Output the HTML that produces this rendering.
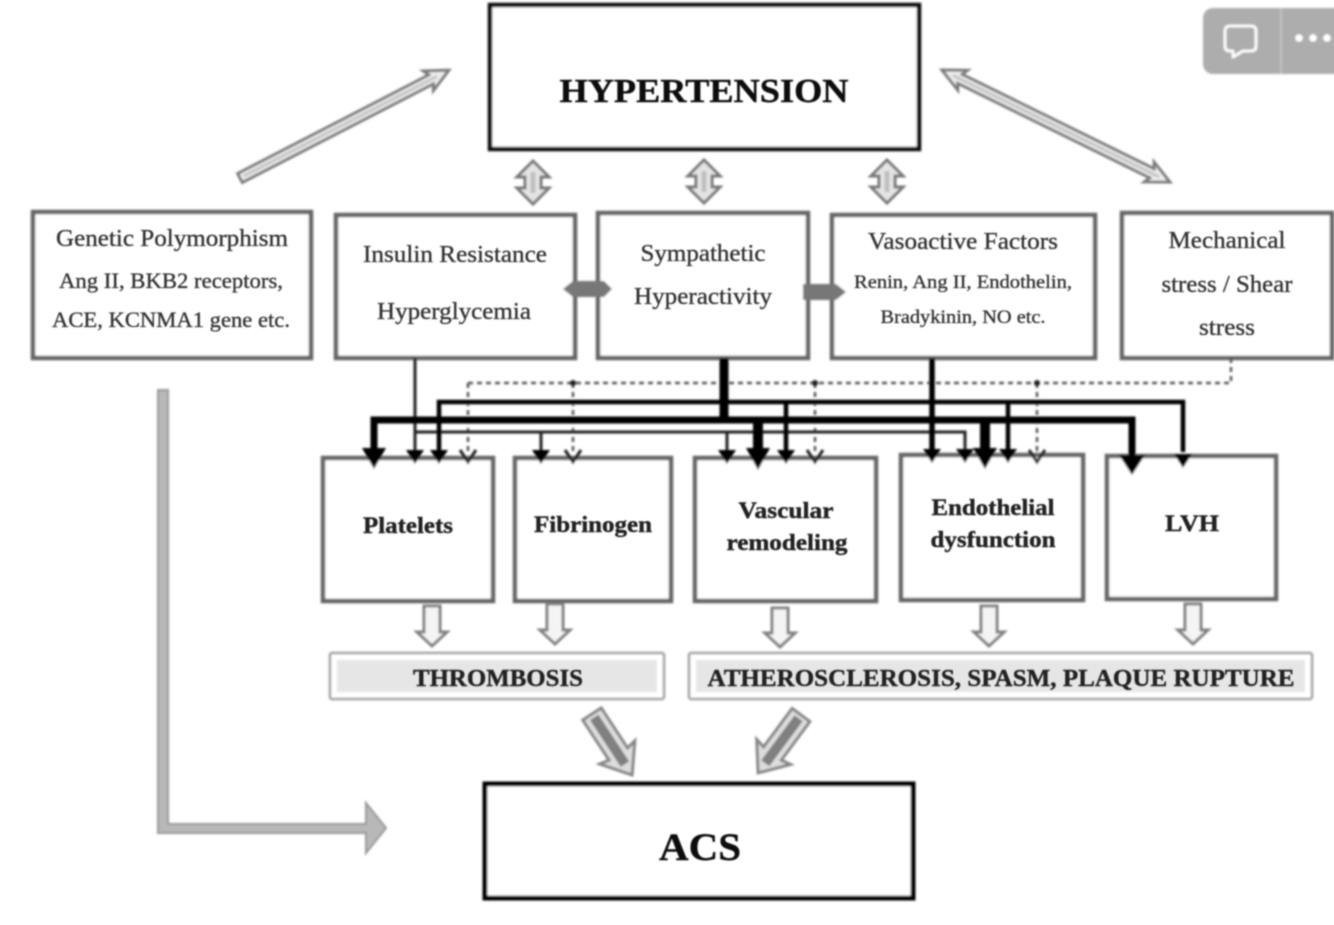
<!DOCTYPE html>
<html><head><meta charset="utf-8"><style>
html,body{margin:0;padding:0;background:#fff;width:1334px;height:925px;overflow:hidden}
svg{display:block}
text{font-family:"Liberation Serif",serif;text-anchor:middle;fill:#333;stroke:#333;stroke-width:.35px}
.b{font-weight:bold;fill:#222;stroke:#222;stroke-width:.4px}
.h{font-weight:bold;fill:#111;stroke:#111;stroke-width:.4px}
</style></head><body>
<svg width="1334" height="925" viewBox="0 0 1334 925" xmlns="http://www.w3.org/2000/svg">
<defs>
<filter id="bl" x="-2%" y="-2%" width="104%" height="104%"><feGaussianBlur stdDeviation="1"/></filter>
<filter id="tb" x="-5%" y="-20%" width="110%" height="140%"><feGaussianBlur stdDeviation="0.85"/></filter>
</defs>
<rect width="1334" height="925" fill="#fff"/>
<g filter="url(#bl)">
<!-- main boxes -->
<g fill="#fff" stroke="#111" stroke-width="4.5">
<rect x="490" y="5" width="429" height="144"/>
<rect x="485" y="784" width="428" height="114" stroke="#000" stroke-width="5"/>
</g>
<g fill="#fff" stroke="#666" stroke-width="4.5">
<rect x="33" y="212" width="278" height="146"/>
<rect x="336" y="215" width="239" height="143"/>
<rect x="598" y="213" width="210" height="145"/>
<rect x="832" y="215" width="263" height="143"/>
<rect x="1122" y="213" width="210" height="145"/>
<rect x="323" y="458" width="170" height="143"/>
<rect x="515" y="458" width="156" height="143"/>
<rect x="695" y="458" width="181" height="143"/>
<rect x="901" y="455" width="182" height="145"/>
<rect x="1107" y="456" width="169" height="143"/>
</g>
<!-- outcome boxes -->
<g fill="#fff" stroke="#a0a0a0" stroke-width="2.5">
<rect x="330" y="653" width="334" height="46" rx="2"/>
<rect x="689" y="653" width="623" height="46" rx="2"/>
</g>
<rect x="337" y="660" width="320" height="32" fill="#e6e6e6"/>
<rect x="696" y="660" width="609" height="32" fill="#e6e6e6"/>

<!-- dashed lines -->
<g fill="none" stroke="#555" stroke-width="2.5" stroke-dasharray="5 4">
<path d="M1231 358V383H468"/>
<path d="M468 383V455M573 383V455M815 383V455M1037 383V455"/>
</g>
<g fill="#222"><circle cx="573" cy="383" r="3"/><circle cx="815" cy="383" r="3"/><circle cx="1037" cy="383" r="3"/></g>
<g fill="none" stroke="#222" stroke-width="3">
<path d="M460 450L468 462L476 450M565 450L573 462L581 450M807 450L815 462L823 450M1029 450L1037 462L1045 450"/>
</g>

<!-- thin lines -->
<g fill="none" stroke="#222" stroke-width="3">
<path d="M415 358V452"/>
<path d="M415 432H965V452"/>
<path d="M541 432V452M727 432V452"/>
</g>
<!-- medium lines -->
<g fill="none" stroke="#000" stroke-width="4.5">
<path d="M439 452V402H1183V452"/>
<path d="M786 402V452M1008 402V452"/>
</g>
<path d="M932 358V452" stroke="#000" stroke-width="5.5" fill="none"/>
<!-- thick lines -->
<g fill="none" stroke="#000" stroke-width="7">
<path d="M374 452V420H1132V458"/>
</g>
<path d="M724 358V420" stroke="#000" stroke-width="9" fill="none"/>
<path d="M758 420V452M985 420V452" stroke="#000" stroke-width="10" fill="none"/>
<!-- heads -->
<g fill="#000">
<path d="M406 450H424L415 464Z"/>
<path d="M430 450H448L439 464Z"/>
<path d="M532 450H550L541 464Z"/>
<path d="M718 450H736L727 464Z"/>
<path d="M777 450H795L786 464Z"/>
<path d="M923 449H941L932 463Z"/>
<path d="M956 449H974L965 463Z"/>
<path d="M999 449H1017L1008 463Z"/>
<path d="M1174 454H1192L1183 468Z"/>
<path d="M362 448H386L374 469Z"/>
<path d="M746 448H770L758 470Z"/>
<path d="M973 448H997L985 469Z"/>
<path d="M1119 455H1145L1132 475Z"/>
</g>

<!-- connectors between boxes -->
<path d="M563 289L573 281H604L612 289L604 297H573Z" fill="#777"/>
<path d="M803 284H836L846 292L836 300H803Z" fill="#777"/>

<!-- large hollow arrows -->
<g stroke="#7c7c7c" stroke-width="3" fill="#eee" stroke-linejoin="miter">
<g transform="translate(240,178) rotate(-27.3)">
<polygon points="0,-5 215,-5 212,-11 235,0 212,11 215,5 0,5"/>
<line x1="4" y1="0" x2="222" y2="0" stroke="#c4c4c4" stroke-width="3"/>
</g>
<g transform="translate(942,70) rotate(26.2)">
<polygon points="0,0 23,-11 20,-5 234,-5 231,-11 254,0 231,11 234,5 20,5 23,11"/>
<line x1="12" y1="0" x2="242" y2="0" stroke="#c4c4c4" stroke-width="3"/>
</g>
</g>

<!-- double vertical arrows -->
<g stroke="#777" stroke-width="3" fill="#e4e4e4">
<polygon points="533,161 549,177 541,177 541,188 549,188 533,204 517,188 525,188 525,177 517,177"/>
<polygon points="704,160 720,176 712,176 712,187 720,187 704,203 688,187 696,187 696,176 688,176"/>
<polygon points="887,160 903,176 895,176 895,187 903,187 887,203 871,187 879,187 879,176 871,176"/>
</g>
<g stroke="#c0c0c0" stroke-width="5">
<line x1="533" y1="172" x2="533" y2="193"/><line x1="704" y1="171" x2="704" y2="192"/><line x1="887" y1="171" x2="887" y2="192"/>
</g>

<!-- small down arrows -->
<g stroke="#808080" stroke-width="3" fill="#f4f4f4">
<polygon points="424,606 440,606 440,632 447,632 432,646 417,632 424,632"/>
<polygon points="547,604 563,604 563,630 570,630 555,644 540,630 547,630"/>
<polygon points="772,608 788,608 788,633 795,633 780,647 765,633 772,633"/>
<polygon points="981,606 997,606 997,632 1004,632 989,646 974,632 981,632"/>
<polygon points="1185,604 1201,604 1201,630 1208,630 1193,644 1178,630 1185,630"/>
</g>

<!-- fat arrows to ACS -->
<g stroke="#858585" stroke-width="3" fill="#ddd">
<g transform="translate(592,714) rotate(56.7)">
<polygon points="0,-11 48,-11 46,-21 73,0 46,21 48,11 0,11"/>
<rect x="4" y="-5" width="56" height="10" fill="#808080" stroke="none"/>
</g>
<g transform="translate(801,715) rotate(126.5)">
<polygon points="0,-11 48,-11 46,-21 72,0 46,21 48,11 0,11"/>
<rect x="4" y="-5" width="56" height="10" fill="#808080" stroke="none"/>
</g>
</g>

<!-- L arrow -->
<path d="M158 390H168V824H366V803L386 828L366 853V833H158Z" fill="#b8b8b8" stroke="#999" stroke-width="2"/>

<!-- badge -->
<rect x="1203" y="8" width="140" height="66" rx="10" fill="#adadad"/>
<line x1="1281" y1="8" x2="1281" y2="74" stroke="#c8c8c8" stroke-width="1.5"/>
<path d="M1230 26H1251Q1256 26 1256 31V46Q1256 51 1251 51H1243L1233 57V51H1230Q1225 51 1225 46V31Q1225 26 1230 26Z" fill="none" stroke="#fff" stroke-width="2.8" stroke-linejoin="round"/>
<g fill="#fff"><circle cx="1299" cy="38" r="3.8"/><circle cx="1313" cy="38" r="3.8"/><circle cx="1327" cy="38" r="3.8"/></g>
</g>

<!-- labels -->
<g filter="url(#tb)">
<text class="h" x="704" y="102" font-size="34" textLength="289" lengthAdjust="spacingAndGlyphs">HYPERTENSION</text>
<text class="h" x="700" y="860" font-size="39" textLength="82" lengthAdjust="spacingAndGlyphs">ACS</text>

<text x="172" y="246" font-size="24" textLength="232" lengthAdjust="spacingAndGlyphs">Genetic Polymorphism</text>
<text x="171" y="288" font-size="22" textLength="224" lengthAdjust="spacingAndGlyphs">Ang II, BKB2 receptors,</text>
<text x="171" y="327" font-size="22" textLength="238" lengthAdjust="spacingAndGlyphs">ACE, KCNMA1 gene etc.</text>

<text x="455" y="262" font-size="24" textLength="184" lengthAdjust="spacingAndGlyphs">Insulin Resistance</text>
<text x="454" y="319" font-size="24" textLength="154" lengthAdjust="spacingAndGlyphs">Hyperglycemia</text>

<text x="703" y="261" font-size="24" textLength="125" lengthAdjust="spacingAndGlyphs">Sympathetic</text>
<text x="703" y="304" font-size="24" textLength="138" lengthAdjust="spacingAndGlyphs">Hyperactivity</text>

<text x="963" y="249" font-size="24" textLength="190" lengthAdjust="spacingAndGlyphs">Vasoactive Factors</text>
<text x="963" y="288" font-size="19" textLength="218" lengthAdjust="spacingAndGlyphs">Renin, Ang II, Endothelin,</text>
<text x="963" y="323" font-size="19" textLength="165" lengthAdjust="spacingAndGlyphs">Bradykinin, NO etc.</text>

<text x="1227" y="248" font-size="24" textLength="117" lengthAdjust="spacingAndGlyphs">Mechanical</text>
<text x="1227" y="292" font-size="24" textLength="131" lengthAdjust="spacingAndGlyphs">stress / Shear</text>
<text x="1227" y="335" font-size="24" textLength="56" lengthAdjust="spacingAndGlyphs">stress</text>

<text class="b" x="408" y="533" font-size="23" textLength="90" lengthAdjust="spacingAndGlyphs">Platelets</text>
<text class="b" x="593" y="532" font-size="23" textLength="118" lengthAdjust="spacingAndGlyphs">Fibrinogen</text>
<text class="b" x="786" y="518" font-size="23" textLength="95" lengthAdjust="spacingAndGlyphs">Vascular</text>
<text class="b" x="787" y="550" font-size="23" textLength="121" lengthAdjust="spacingAndGlyphs">remodeling</text>
<text class="b" x="993" y="515" font-size="23" textLength="123" lengthAdjust="spacingAndGlyphs">Endothelial</text>
<text class="b" x="993" y="547" font-size="23" textLength="125" lengthAdjust="spacingAndGlyphs">dysfunction</text>
<text class="b" x="1192" y="531" font-size="23" textLength="54" lengthAdjust="spacingAndGlyphs">LVH</text>

<text class="b" x="498" y="686" font-size="24" textLength="170" lengthAdjust="spacingAndGlyphs">THROMBOSIS</text>
<text class="b" x="1001" y="686" font-size="24" textLength="587" lengthAdjust="spacingAndGlyphs">ATHEROSCLEROSIS, SPASM, PLAQUE RUPTURE</text>
</g>
</svg>
</body></html>
